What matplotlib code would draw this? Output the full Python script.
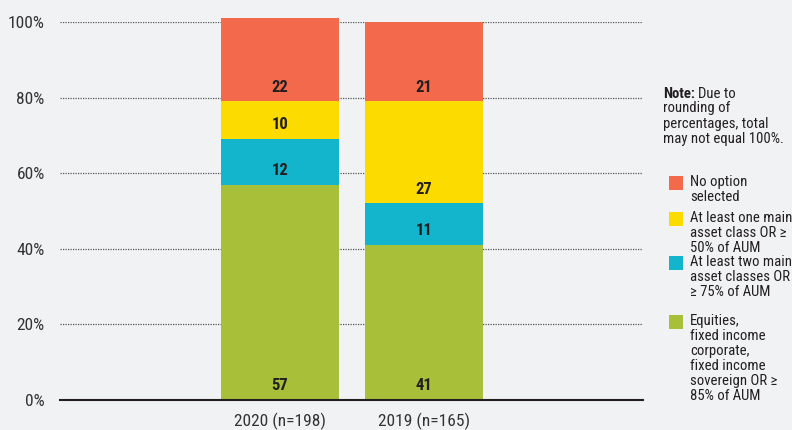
import numpy as np
import matplotlib
matplotlib.use("Agg")
import matplotlib.pyplot as plt
import matplotlib.patches as patches
from matplotlib import font_manager

# ── Data ──────────────────────────────────────────────────────────────
categories = ["2020 (n=198)", "2019 (n=165)"]
equities = [57, 41]
two_main = [12, 11]
one_main = [10, 27]
no_option = [22, 21]

series = [equities, two_main, one_main, no_option]
series_labels = [
    "Equities,\nfixed income\ncorporate,\nfixed income\nsovereign OR \u2265\n85% of AUM",
    "At least two main\nasset classes OR\n\u2265 75% of AUM",
    "At least one main\nasset class OR \u2265\n50% of AUM",
    "No option\nselected",
]
COLORS = ["#A8BF3A", "#12B5CB", "#FCDC00", "#F26A4B"]
BG = "#F1F2F4"
TXT = "#231F20"

# pick a condensed family that is installed
installed = {f.name for f in font_manager.fontManager.ttflist}
FONT = next(n for n in ["Roboto Condensed", "Archivo Narrow", "IBM Plex Sans Condensed",
                        "Barlow Semi Condensed", "DejaVu Sans"] if n in installed)
BOLD_FONT = next(n for n in ["Roboto Condensed", "IBM Plex Sans Condensed",
                             "Barlow Semi Condensed", "DejaVu Sans"] if n in installed)
plt.rcParams["font.family"] = [FONT, "DejaVu Sans"]

fig = plt.figure(figsize=(7.92, 4.30), dpi=100)
fig.patch.set_facecolor(BG)
ax = fig.add_axes([60 / 792, 30 / 430, 583 / 792, 378 / 430])
ax.set_facecolor(BG)

x = np.arange(len(categories))
bottom = np.zeros(len(categories))
for vals, color in zip(series, COLORS):
    vals = np.array(vals, dtype=float)
    ax.bar(x, vals, bottom=bottom, width=0.82, color=color, zorder=3, clip_on=False)
    for xi, b, v in zip(x, bottom, vals):
        ax.text(xi, b + 3.8, f"{int(v)}", ha="center", va="center",
                fontsize=12, fontweight="bold", family=[BOLD_FONT, "DejaVu Sans"],
                color=TXT, zorder=4)
    bottom += vals

ax.set_xlim(-1.528, 2.521)
ax.set_ylim(0, 100)
ax.set_yticks([0, 20, 40, 60, 80, 100])
ax.set_yticklabels([f"{t}%" for t in [0, 20, 40, 60, 80, 100]])
ax.set_xticks(x)
ax.set_xticklabels(categories)
ax.tick_params(axis="both", length=0, labelsize=12.5, colors="#333333")
ax.tick_params(axis="y", pad=11)
ax.tick_params(axis="x", pad=9)
for t in [20, 40, 60, 80, 100]:
    ax.axhline(t, color="#555555", linestyle=(0, (1, 1)), linewidth=0.9, zorder=1)
ax.axhline(0, color=TXT, linewidth=1.5, zorder=5, clip_on=False)
for s in ax.spines.values():
    s.set_visible(False)

# ── Note and legend ───────────────────────────────────────────────────
note_kw = dict(fontsize=10.6, va="top", ha="left", color=TXT, linespacing=1.1)
note_b = fig.text(663 / 792, 1 - 87 / 430, "Note:", fontweight="bold",
                  family=[BOLD_FONT, "DejaVu Sans"], **note_kw)
renderer = fig.canvas.get_renderer()
nb = note_b.get_window_extent(renderer)
fig.text((nb.x1 + 3) / 792, 1 - 87 / 430, "Due to", **note_kw)
fig.text(663 / 792, 1 - 101.5 / 430,
         "rounding of\npercentages, total\nmay not equal 100%.", **note_kw)

legend_tops = [315, 256, 212, 176]
for lbl, color, top in zip(series_labels, COLORS, legend_tops):
    fig.patches.append(patches.Rectangle(
        (669 / 792, 1 - (top + 14) / 430), 14 / 792, 14 / 430,
        transform=fig.transFigure, facecolor=color, edgecolor="none"))
    fig.text(690 / 792, 1 - (top - 1) / 430, lbl, **note_kw)

fig.savefig("out.png", dpi=100, facecolor=BG)
